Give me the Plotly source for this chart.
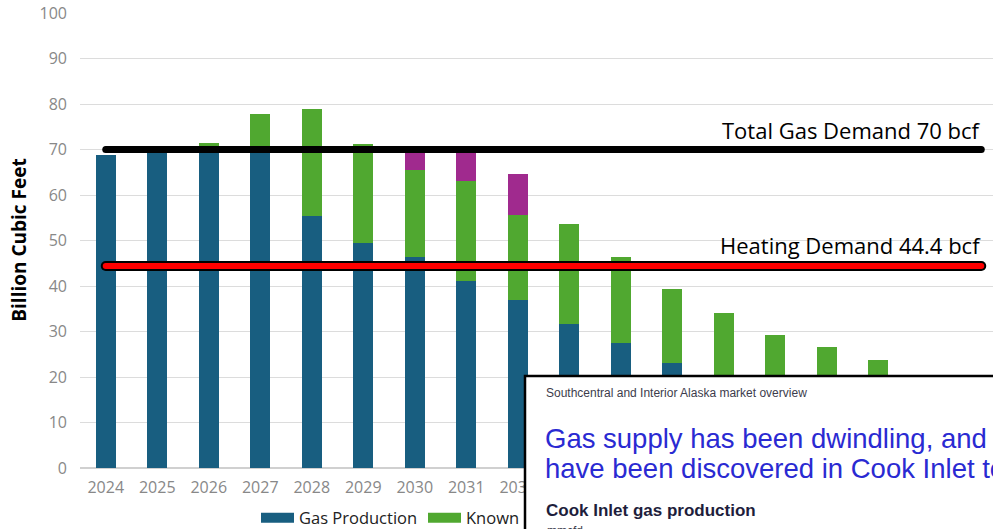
import plotly.graph_objects as go

# ---------------- data ----------------
years = list(range(2024, 2042))
gas_production = [68.7, 69.6, 69.6, 69.6, 55.3, 49.5, 46.3, 41.1, 37.0, 31.6, 27.4, 23.0,
                  None, None, None, None, None, None]
known = [None, None, 1.8, 8.2, 23.6, 21.8, 19.1, 21.9, 18.5, 22.1, 18.9, 16.3,
         34.0, 29.2, 26.5, 23.7, None, None]
potential = [None, None, None, None, None, None, 4.6, 7.0, 9.2, None, None, None,
             None, None, None, None, None, None]

total_demand = 70
heating_demand = 44.4
total_label = "Total Gas Demand 70 bcf"
heating_label = "Heating Demand 44.4 bcf"
y_title = "Billion Cubic Feet"
y_ticks = list(range(0, 101, 10))

inset_kicker = "Southcentral and Interior Alaska market overview"
inset_head_1 = "Gas supply has been dwindling, and few new fields"
inset_head_2 = "have been discovered in Cook Inlet to replace them"
inset_sub = "Cook Inlet gas production"
inset_unit = "mmcfd"

# ---------------- styles ----------------
C_BLUE = "#185e80"
C_GREEN = "#50a830"
C_PURPLE = "#a02a8e"
FONT = "Open Sans"
INSET_FONT = "Liberation Sans, Arial, sans-serif"

W, H = 993, 529
PX_PER_UNIT = 4.55
Y0_PX = 468
ML, MR, MT, MB = 80, 0, 12, H - Y0_PX
PW = W - ML - MR
PH = H - MT - MB
Y_TOP = PH / PX_PER_UNIT


def px_x(px):
    return (px - ML) / PW


def px_y(py):
    return (Y0_PX - py) / PH


fig = go.Figure()

bar_w = 0.39
fig.add_trace(go.Bar(x=years, y=gas_production, marker=dict(color=C_BLUE, line=dict(width=0)),
                     width=bar_w, name="Gas Production", showlegend=False))
fig.add_trace(go.Bar(x=years, y=known, marker=dict(color=C_GREEN, line=dict(width=0)),
                     width=bar_w, name="Known", showlegend=False))
fig.add_trace(go.Bar(x=years, y=potential, marker=dict(color=C_PURPLE, line=dict(width=0)),
                     width=bar_w, name="Potential", showlegend=False))

# legend swatches
fig.add_trace(go.Scatter(x=[None], y=[None], mode="lines", line=dict(color=C_BLUE, width=12),
                         name="Gas Production"))
fig.add_trace(go.Scatter(x=[None], y=[None], mode="lines", line=dict(color=C_GREEN, width=12),
                         name="Known"))

line_x = [years[0], years[-1]]
# total demand line (black, round ends)
fig.add_trace(go.Scatter(x=line_x, y=[total_demand] * 2, mode="lines+markers",
                         line=dict(color="black", width=7),
                         marker=dict(color="black", size=7, line=dict(width=0)),
                         showlegend=False, hoverinfo="skip"))
# heating demand line (red with black outline)
fig.add_trace(go.Scatter(x=line_x, y=[heating_demand] * 2, mode="lines+markers",
                         line=dict(color="black", width=10),
                         marker=dict(color="black", size=10, line=dict(width=0)),
                         showlegend=False, hoverinfo="skip"))
fig.add_trace(go.Scatter(x=line_x, y=[heating_demand] * 2, mode="lines+markers",
                         line=dict(color="#ff0000", width=6),
                         marker=dict(color="#ff0000", size=6, line=dict(width=0)),
                         showlegend=False, hoverinfo="skip"))

annotations = [
    dict(x=years[-1], y=total_demand, xref="x", yref="y", xanchor="right", yanchor="bottom",
         xshift=2, yshift=3, text=total_label, showarrow=False,
         font=dict(family=FONT, size=22, color="black")),
    dict(x=years[-1], y=heating_demand, xref="x", yref="y", xanchor="right", yanchor="bottom",
         xshift=2, yshift=4, text=heating_label, showarrow=False,
         font=dict(family=FONT, size=22, color="black")),
    # inset texts
    dict(x=px_x(544), y=px_y(393), xref="paper", yref="paper", xanchor="left", yanchor="middle",
         text=inset_kicker, showarrow=False, font=dict(family=INSET_FONT, size=12, color="#3c3c4c")),
    dict(x=px_x(543), y=px_y(438), xref="paper", yref="paper", xanchor="left", yanchor="middle",
         text=inset_head_1, showarrow=False, font=dict(family=INSET_FONT, size=27.5, color="#2a2ad2")),
    dict(x=px_x(543), y=px_y(468), xref="paper", yref="paper", xanchor="left", yanchor="middle",
         text=inset_head_2, showarrow=False, font=dict(family=INSET_FONT, size=27.5, color="#2a2ad2")),
    dict(x=px_x(544), y=px_y(510), xref="paper", yref="paper", xanchor="left", yanchor="middle",
         text="<b>" + inset_sub + "</b>", showarrow=False,
         font=dict(family=INSET_FONT, size=17, color="#1e1e3c")),
    dict(x=px_x(545), y=px_y(531), xref="paper", yref="paper", xanchor="left", yanchor="middle",
         text=inset_unit, showarrow=False, font=dict(family=INSET_FONT, size=12, color="#3c3c4c")),
]

shapes = [
    dict(type="rect", xref="paper", yref="paper", x0=px_x(525), x1=px_x(1010),
         y0=px_y(545), y1=px_y(376), fillcolor="white",
         line=dict(color="black", width=2.5), layer="above"),
]

fig.update_layout(
    width=W, height=H,
    margin=dict(l=ML, r=MR, t=MT, b=MB, pad=0),
    paper_bgcolor="white", plot_bgcolor="white",
    barmode="stack",
    font=dict(family=FONT, size=16, color="#888888"),
    showlegend=True,
    legend=dict(orientation="h", xref="container", yref="container",
                x=256 / W, xanchor="left", y=1 - 518 / H, yanchor="middle",
                font=dict(family=FONT, size=16.5, color="#222222"),
                bgcolor="rgba(0,0,0,0)", itemwidth=33, traceorder="normal",
                entrywidth=119, entrywidthmode="pixels"),
    annotations=annotations,
    shapes=shapes,
    xaxis=dict(range=[years[0] - 0.5, years[0] - 0.5 + PW / 51.5], tickmode="array",
               tickvals=years, ticktext=[str(y) for y in years], automargin=False,
               showgrid=False, zeroline=False, showline=False, ticks="",
               tickfont=dict(family=FONT, size=16, color="#888888"), ticklabelstandoff=8),
    yaxis=dict(range=[0, Y_TOP], tickmode="array", tickvals=y_ticks, automargin=True,
               showgrid=True, gridcolor="#dcdcdc", gridwidth=1.3,
               zeroline=True, zerolinecolor="#d0d0d0", zerolinewidth=1.5,
               showline=False, ticks="",
               tickfont=dict(family=FONT, size=16, color="#888888"), ticklabelstandoff=12,
               title=dict(text="<b>" + y_title + "</b>", standoff=7,
                          font=dict(family=FONT, size=19, color="black"))),
)

fig.write_html("out.html", config={"displayModeBar": False},
               post_script="document.body.style.margin='0';document.body.style.overflow='hidden';")
